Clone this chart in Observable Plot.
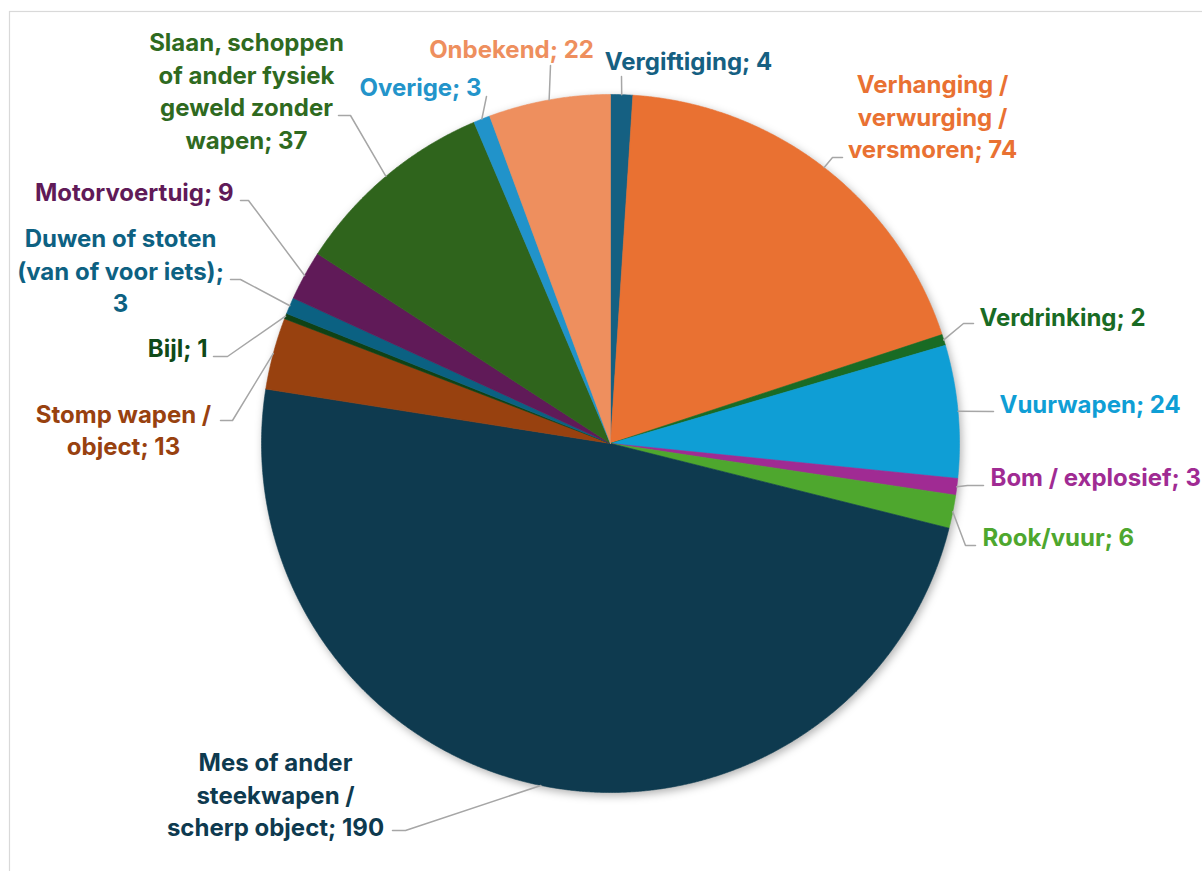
<!DOCTYPE html>
<html><head><meta charset="utf-8">
<script src="https://cdn.jsdelivr.net/npm/d3@7"></script>
<script src="https://cdn.jsdelivr.net/npm/@observablehq/plot@0.6"></script>
<style>html,body{margin:0;padding:0;background:#fff;overflow:hidden}</style>
</head><body><div id="chart"></div>
<script>
// ---- data ----
const categories = ["Vergiftiging", "Verhanging / verwurging / versmoren", "Verdrinking", "Vuurwapen",
  "Bom / explosief", "Rook/vuur", "Mes of ander steekwapen / scherp object", "Stomp wapen / object",
  "Bijl", "Duwen of stoten (van of voor iets)", "Motorvoertuig",
  "Slaan, schoppen of ander fysiek geweld zonder wapen", "Overige", "Onbekend"];
const values = [4, 74, 2, 24, 3, 6, 190, 13, 1, 3, 9, 37, 3, 22];

// ---- label wrapping (text layout) ----
const wrapped = ["Vergiftiging", "Verhanging /\nverwurging /\nversmoren", "Verdrinking", "Vuurwapen",
  "Bom / explosief", "Rook/vuur", "Mes of ander\nsteekwapen /\nscherp object", "Stomp wapen /\nobject",
  "Bijl", "Duwen of stoten\n(van of voor iets);\n", "Motorvoertuig",
  "Slaan, schoppen\nof ander fysiek\ngeweld zonder\nwapen", "Overige", "Onbekend"];

// ---- styles ----
const sliceColors = ["#156082", "#E97132", "#196B24", "#0F9ED5", "#A02B93", "#4EA72E", "#0E3A4F",
  "#98410F", "#0F4215", "#0B6182", "#601A58", "#2F641C", "#2193CA", "#EE8F5E"];
const labelColors = ["#156082", "#E97132", "#196B24", "#0F9ED5", "#A02B93", "#4EA72E", "#0E3A4F",
  "#98410F", "#0F4A18", "#0D6182", "#601A58", "#2F6A1F", "#2394CA", "#EE8F5E"];

// ---- layout (pixels) ----
const W = 1202, H = 871;
const center = [610, 443], radius = 349;
const labelPos = [
  {x: 688, y: 61, a: "middle", leader: [[621, 76]]},
  {x: 932, y: 117, a: "middle", leader: [[832, 157], [842, 157]]},
  {x: 979, y: 317, a: "start", leader: [[963, 323], [973, 323]]},
  {x: 999, y: 404, a: "start", leader: [[993, 411]]},
  {x: 990, y: 477, a: "start", leader: [[967, 485], [983, 485]]},
  {x: 982, y: 537, a: "start", leader: [[965, 545], [975, 545]]},
  {x: 275, y: 795, a: "middle", leader: [[405, 830], [392, 830]]},
  {x: 123, y: 430, a: "middle", leader: [[232, 420], [220, 420]]},
  {x: 207, y: 348, a: "end", leader: [[227, 356], [213, 356]]},
  {x: 120, y: 271, a: "middle", leader: [[240, 279], [230, 279]]},
  {x: 233, y: 192, a: "end", leader: [[248, 200], [240, 200]]},
  {x: 246, y: 91, a: "middle", leader: [[350, 115], [338, 115]]},
  {x: 481, y: 87, a: "end", leader: [[486, 96]]},
  {x: 511, y: 49, a: "middle", leader: [[550, 65]]}
];

// ---- geometry from data ----
const arcs = d3.pie().sort(null).value(d => d)(values);
const pt = (a, r) => [center[0] + r * Math.sin(a), center[1] - r * Math.cos(a)];
const slicePts = [];
arcs.forEach((arc, i) => {
  const n = Math.max(2, Math.ceil((arc.endAngle - arc.startAngle) / (Math.PI / 720)));
  slicePts.push({x: center[0], y: center[1], k: "s" + i, c: sliceColors[i]});
  for (let j = 0; j <= n; j++) {
    const a = arc.startAngle + (arc.endAngle - arc.startAngle) * j / n;
    const [x, y] = pt(a, radius);
    slicePts.push({x, y, k: "s" + i, c: sliceColors[i]});
  }
  slicePts.push({x: center[0], y: center[1], k: "s" + i, c: sliceColors[i]});
});
const leaderPts = [];
arcs.forEach((arc, i) => {
  const m = (arc.startAngle + arc.endAngle) / 2;
  const [x, y] = pt(m, radius);
  leaderPts.push({x, y, k: "l" + i});
  labelPos[i].leader.forEach(([lx, ly]) => leaderPts.push({x: lx, y: ly, k: "l" + i}));
});
const labels = categories.map((c, i) => ({
  text: wrapped[i].endsWith("\n") ? wrapped[i] + values[i] : wrapped[i] + "; " + values[i],
  x: labelPos[i].x, y: labelPos[i].y, a: labelPos[i].a, c: labelColors[i]
}));

const font = "Inter, 'Noto Sans', sans-serif";
const FS = 24;
const textMark = (anchor) => Plot.text(labels.filter(d => d.a === anchor), {
  x: "x", y: "y", text: "text", fill: "c", textAnchor: anchor, lineAnchor: "middle", dy: -2,
  fontSize: FS, fontWeight: 700, fontFamily: font, lineHeight: 32.5 / FS
});

const chart = Plot.plot({
  width: W, height: H, margin: 0,
  x: {domain: [0, W], range: [0, W], axis: null},
  y: {domain: [0, H], range: [0, H], axis: null},
  color: {type: "identity"},
  style: {background: "#fff", overflow: "hidden"},
  marks: [
    Plot.rect([{x1: 9.5, y1: 11.5, x2: W + 20, y2: H + 20}], {x1: "x1", y1: "y1", x2: "x2", y2: "y2", fill: "none", stroke: "#D9D9D9", strokeWidth: 1.2}),
    Plot.line(slicePts, {x: "x", y: "y", z: "k", fill: "c", stroke: "c", strokeWidth: 0.6, curve: "linear"}),
    Plot.line(leaderPts, {x: "x", y: "y", z: "k", stroke: "#A6A6A6", strokeWidth: 1.5, curve: "linear"}),
    textMark("middle"), textMark("start"), textMark("end")
  ]
});

// soft drop shadow under the pie (first line mark)
const pieG = chart.querySelector('g[aria-label="line"]');
if (pieG) pieG.style.filter = "drop-shadow(2px 3px 4px rgba(0,0,0,0.30))";

document.getElementById("chart").appendChild(chart);
</script></body></html>
